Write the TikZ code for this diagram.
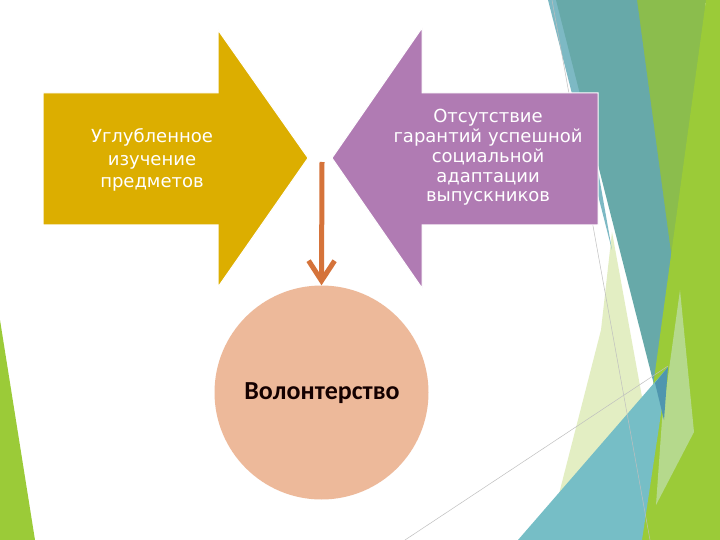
\documentclass[tikz,border=0pt]{standalone}
\usepackage{fontspec}
\setmainfont{DejaVu Sans}
\newfontfamily\calfont{Carlito}
\usetikzlibrary{arrows.meta}
\definecolor{cyellow}{HTML}{DCAE00}
\definecolor{cpurple}{HTML}{B07BB3}
\definecolor{corange}{HTML}{D5733A}
\definecolor{cpeach}{HTML}{EDB99A}
\definecolor{cteal}{HTML}{67A9A9}
\definecolor{cteallight}{HTML}{7DB9C4}
\definecolor{colive}{HTML}{8BBD4D}
\definecolor{clime}{HTML}{9BCB38}
\definecolor{cblue}{HTML}{76BEC6}
\definecolor{cdeepblue}{HTML}{4F96AE}
\definecolor{cpale}{HTML}{E3EEC3}
\definecolor{cpalegreen}{HTML}{B5D98C}
\tikzset{
  deco/.style={draw=none},
  bigarrow/.style={draw=white, line width=1pt},
  arrowtext/.style={text=white, align=center, font=\fontsize{18}{22.5}\selectfont},
  thinline/.style={draw=black!25, line width=0.5pt}
}
\begin{document}
\begin{tikzpicture}[x=1pt,y=-1pt]
\useasboundingbox (0,0) rectangle (720,540);
\fill[white] (0,0) rectangle (720,540);
% background decoration
\fill[deco, clime] (0,320) -- (35,540) -- (0,540) -- cycle;
\fill[deco, cpale] (612,232) -- (601,330) -- (560,490) -- (548,540) -- (668,540) -- cycle;
\fill[deco, cteallight] (548,0) -- (568,0) -- (612,250) -- cycle;
\fill[deco, colive] (630,0) -- (706,0) -- (670,410) -- cycle;
\fill[deco, cteal] (556,0) -- (637,0) -- (672,260) -- (663,420) -- cycle;
\fill[deco, clime] (706,0) -- (720,0) -- (720,540) -- (632,540) -- cycle;
\fill[deco, cpalegreen] (680,290) -- (694,432) -- (656,505) -- (662,420) -- cycle;
\fill[deco, cblue] (518,540) -- (668,367) -- (642,540) -- cycle;
\fill[deco, cdeepblue] (655,383) -- (668,367) -- (664,420) -- cycle;
\draw[thinline] (552,0) -- (650,540);
\draw[thinline] (405,540) -- (668,366);
% yellow arrow
\draw[bigarrow, fill=cyellow] (43,93) -- (218,93) -- (218,30) -- (308,158) -- (218,287) -- (218,225) -- (43,225) -- cycle;
\node[arrowtext, text width=170pt] (left) at (152,160) {Углубленное\\изучение\\предметов};
% purple arrow
\draw[bigarrow, fill=cpurple] (598,93) -- (422,93) -- (422,28) -- (332,158) -- (422,288) -- (422,225) -- (598,225) -- cycle;
\node[arrowtext, text width=200pt, font=\fontsize{18}{19.7}\selectfont] (right) at (488,157.5) {Отсутствие\\гарантий успешной\\социальной\\адаптации\\выпускников};
% circle
\node[circle, fill=cpeach, minimum size=214pt, inner sep=0pt] (vol) at (321.5,392.5) {};
\node[font=\calfont\bfseries\fontsize{26}{30}\selectfont, text=black!92!red] (voltext) at (322,393) {Волонтерство};
% orange arrow
\coordinate (start) at (322,162);
\draw[corange, line width=5pt, -{Straight Barb[length=20pt, width=26pt]}] (start) -- (vol.north);
\end{tikzpicture}
\end{document}
